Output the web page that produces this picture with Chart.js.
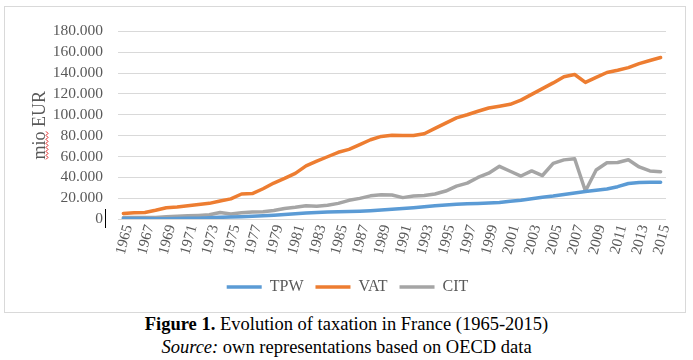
<!DOCTYPE html>
<html>
<head>
<meta charset="utf-8">
<script src="https://cdn.jsdelivr.net/npm/chart.js@4.4.1/dist/chart.umd.min.js"></script>
<style>
  html, body { margin: 0; padding: 0; background: #ffffff; }
  body { width: 693px; height: 360px; position: relative; overflow: hidden; }
  #frame { position: absolute; left: 4px; top: 6px; width: 682px; height: 307px; box-sizing: border-box; border: 1px solid #D9D9D9; }
  #c { position: absolute; left: 0; top: 0; }
  .cap { position: absolute; left: 0; width: 693px; text-align: center; font-family: "Liberation Serif", "Times New Roman", serif; font-size: 18.5px; color: #000; white-space: nowrap; }
</style>
</head>
<body>
<div id="frame"><canvas id="c" width="680" height="305"></canvas></div>
<div class="cap" style="top:313px;line-height:22px;"><b>Figure 1.</b> Evolution of taxation in France (1965-2015)</div>
<div class="cap" style="top:336px;line-height:22px;"><i>Source:</i> own representations based on OECD data</div>
<script>
const years = ['1965','1966','1967','1968','1969','1970','1971','1972','1973','1974',
  '1975','1976','1977','1978','1979','1980','1981','1982','1983','1984',
  '1985','1986','1987','1988','1989','1990','1991','1992','1993','1994',
  '1995','1996','1997','1998','1999','2000','2001','2002','2003','2004',
  '2005','2006','2007','2008','2009','2010','2011','2012','2013','2014','2015'];

const tpw = [500,500,500,300,300,400,600,800,1200,1600,
  1900,2200,2600,3100,3700,4400,5000,5700,6300,6800,
  7000,7200,7500,8000,8600,9300,10000,10800,11800,12600,
  13400,14200,14600,14900,15400,15900,17000,18000,19500,20800,
  22000,23500,25000,26300,27600,28800,31000,34000,35000,35200,35300];

const vat = [5300,5900,6300,8400,10800,11400,12600,14000,15000,17300,
  19300,24000,24400,29000,34500,39000,43800,51000,55500,59700,
  64000,66800,71300,76000,79200,80400,80000,80000,81800,86900,
  92000,97000,100000,103300,106400,108200,110000,114000,119500,125000,
  130500,136500,138600,131000,135800,140500,142700,145200,149000,152000,154900];

const cit = [1500,1500,1500,1500,2200,2700,3000,3400,4000,6200,
  4900,6000,6700,6900,8200,10000,11200,12800,12300,13200,
  15000,17900,19800,22200,23200,23000,20500,22000,22500,24000,
  26800,31500,34400,39800,43900,50500,45800,41200,46100,41700,
  53300,56700,57800,26800,47000,54000,54200,56800,49900,46100,45400];

const yTicks = [0,20000,40000,60000,80000,100000,120000,140000,160000,180000];
const seriesNames = ['TPW','VAT','CIT'];
const seriesColors = ['#5B9BD5','#ED7D31','#A5A5A5'];

const fmt = v => String(v).replace(/\B(?=(\d{3})+(?!\d))/g, '.');
const serif = '"Liberation Serif", "Times New Roman", serif';

const decor = {
  id: 'decor',
  afterLayout(chart) {
    chart.legend.left += 12;
    chart.legend.right += 12;
  },
  afterDraw(chart) {
    const ctx = chart.ctx;
    const ys = chart.scales.y;
    const ca = chart.chartArea;
    const z = ys.getPixelForValue(0);
    ctx.save();
    ctx.strokeStyle = '#000';
    ctx.lineWidth = 1;
    ctx.beginPath();
    ctx.moveTo(ca.left - 12.5, z - 10);
    ctx.lineTo(ca.left - 12.5, z + 9);
    ctx.stroke();
    ctx.font = '18px ' + serif;
    const W = ctx.measureText('mio EUR').width;
    const w1 = ctx.measureText('mio').width;
    const cy = (ca.top + ca.bottom) / 2;
    const x0 = 41;
    const yStart = cy + W / 2;
    ctx.strokeStyle = '#E02020';
    ctx.lineWidth = 1;
    ctx.beginPath();
    let k = 0;
    for (let y = yStart; y >= yStart - w1; y -= 2) {
      const x = x0 + (k % 2 === 0 ? 0 : 2);
      if (k === 0) ctx.moveTo(x, y); else ctx.lineTo(x, y);
      k++;
    }
    ctx.stroke();
    ctx.restore();
  }
};

new Chart(document.getElementById('c'), {
  type: 'line',
  data: {
    labels: years,
    datasets: [tpw, vat, cit].map((d, i) => ({
      label: seriesNames[i],
      data: d,
      borderColor: seriesColors[i],
      backgroundColor: seriesColors[i],
      borderWidth: 3.5,
      pointRadius: 0,
      tension: 0,
      borderCapStyle: 'round',
      borderJoinStyle: 'round',
      fill: false
    }))
  },
  options: {
    responsive: false,
    animation: false,
    devicePixelRatio: 1,
    layout: { padding: { left: 0, right: 19, top: 20, bottom: 7 } },
    plugins: {
      legend: {
        position: 'bottom',
        labels: {
          usePointStyle: true,
          pointStyle: 'line',
          pointStyleWidth: 35,
          boxHeight: 16,
          padding: 12,
          color: '#595959',
          font: { family: serif, size: 16 }
        }
      },
      tooltip: { enabled: false }
    },
    scales: {
      x: {
        offset: true,
        grid: { display: false, drawTicks: false },
        border: { display: false },
        ticks: {
          autoSkip: false,
          minRotation: 75,
          maxRotation: 75,
          padding: 4,
          labelOffset: 5,
          color: '#595959',
          font: { family: serif, size: 15 },
          callback: (v, i) => (i % 2 === 0 ? years[i] : '')
        },
        afterFit: s => { s.height = 48; }
      },
      y: {
        min: 0,
        max: 180000,
        afterBuildTicks: s => { s.ticks = yTicks.map(v => ({ value: v })); },
        grid: { color: '#D9D9D9', lineWidth: 1, drawTicks: false },
        border: { display: false },
        ticks: {
          autoSkip: false,
          padding: 15,
          color: '#595959',
          font: { family: serif, size: 15.5 },
          callback: v => fmt(v)
        },
        title: {
          display: true,
          text: 'mio EUR',
          color: '#595959',
          font: { family: serif, size: 18 },
          padding: { top: 24, bottom: 0 }
        },
        afterFit: s => { s.width = 113; }
      }
    }
  },
  plugins: [decor]
});
</script>
</body>
</html>
